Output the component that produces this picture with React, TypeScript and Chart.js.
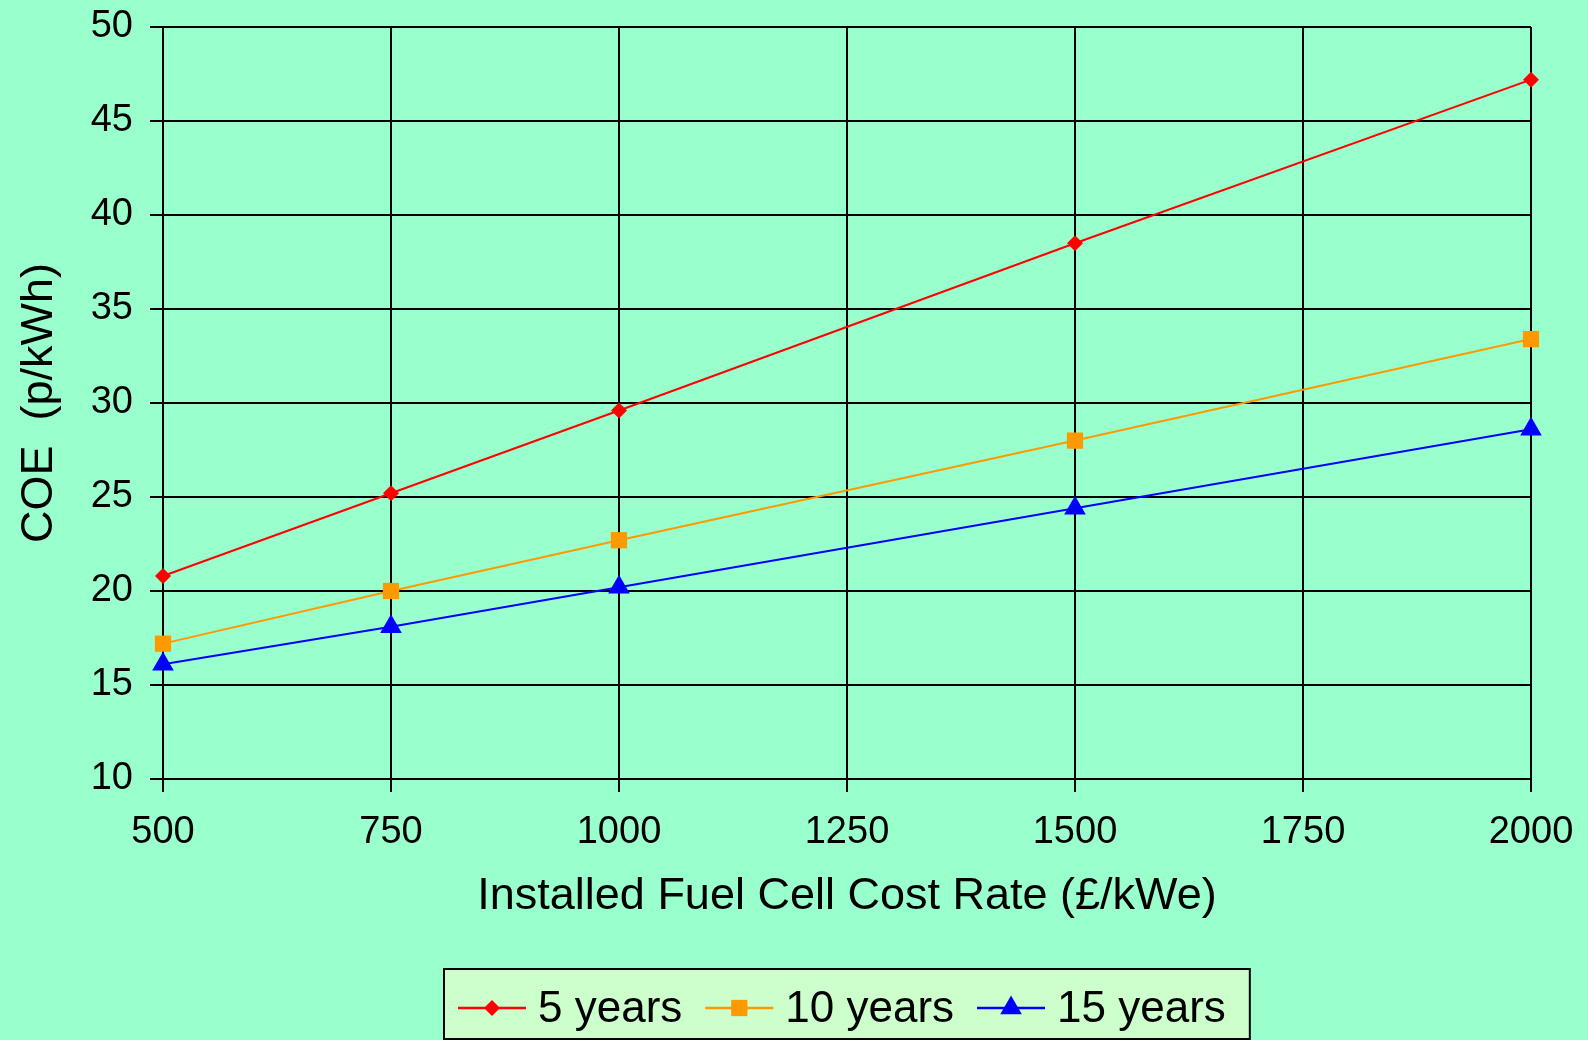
import React, { useEffect, useRef } from "react";
import { Chart, registerables } from "chart.js";

Chart.register(...registerables);

// ---- Data ----
const costRates = [500, 750, 1000, 1500, 2000];
const coe5Years = [20.8, 25.2, 29.6, 38.5, 47.2];
const coe10Years = [17.2, 20.0, 22.7, 28.0, 33.4];
const coe15Years = [16.1, 18.1, 20.2, 24.4, 28.6];
const seriesLabels = ["5 years", "10 years", "15 years"];
const xAxisTitle = "Installed Fuel Cell Cost Rate (£/kWe)";
const yAxisTitle = "COE  (p/kWh)";
const xTickValues = [500, 750, 1000, 1250, 1500, 1750, 2000];
const yTickValues = [10, 15, 20, 25, 30, 35, 40, 45, 50];

const FONT_FAMILY = '"Liberation Sans", Arial, Helvetica, sans-serif';
const PAGE_BG = "#99FFCC";
const LEGEND_BG = "#CCFFCC";

function drawMarker(ctx: CanvasRenderingContext2D, style: string, x: number, y: number, r: number, color: string) {
  ctx.save();
  ctx.fillStyle = color;
  ctx.beginPath();
  if (style === "rectRot") {
    ctx.moveTo(x, y - r);
    ctx.lineTo(x + r, y);
    ctx.lineTo(x, y + r);
    ctx.lineTo(x - r, y);
    ctx.closePath();
  } else if (style === "rect") {
    const h = Math.SQRT1_2 * r;
    ctx.rect(x - h, y - h, 2 * h, 2 * h);
  } else if (style === "triangle") {
    let rad = 0;
    ctx.moveTo(x + Math.sin(rad) * r, y - Math.cos(rad) * r);
    rad += (2 * Math.PI) / 3;
    ctx.lineTo(x + Math.sin(rad) * r, y - Math.cos(rad) * r);
    rad += (2 * Math.PI) / 3;
    ctx.lineTo(x + Math.sin(rad) * r, y - Math.cos(rad) * r);
    ctx.closePath();
  }
  ctx.fill();
  ctx.restore();
}

const boxLegendPlugin = {
  id: "boxLegend",
  afterDraw(chart: any) {
    const ctx: CanvasRenderingContext2D = chart.ctx;
    const area = chart.chartArea;
    ctx.save();
    ctx.font = `44px ${FONT_FAMILY}`;
    const lineLen = 68;
    const gapText = 12;
    const gapItem = 23;
    const padL = 14;
    const padR = 24;
    const datasets = chart.data.datasets;
    const widths = datasets.map((d: any) => ctx.measureText(d.label).width);
    let total = padL + padR;
    widths.forEach((w: number, i: number) => {
      total += lineLen + gapText + w + (i < widths.length - 1 ? gapItem : 0);
    });
    const cx = (area.left + area.right) / 2;
    const boxL = Math.round(cx - total / 2);
    const boxT = 969;
    const boxB = 1039;
    ctx.fillStyle = LEGEND_BG;
    ctx.fillRect(boxL, boxT, total, boxB - boxT);
    ctx.strokeStyle = "#000000";
    ctx.lineWidth = 2;
    ctx.strokeRect(boxL, boxT, total, boxB - boxT);
    const midY = 1008;
    let x = boxL + padL;
    datasets.forEach((d: any, i: number) => {
      ctx.strokeStyle = d.borderColor;
      ctx.lineWidth = 2.5;
      ctx.beginPath();
      ctx.moveTo(x, midY);
      ctx.lineTo(x + lineLen, midY);
      ctx.stroke();
      drawMarker(ctx, d.pointStyle, x + lineLen / 2, midY, d.legendMarkerRadius, d.pointBackgroundColor);
      x += lineLen + gapText;
      ctx.fillStyle = "#000000";
      ctx.textAlign = "left";
      ctx.textBaseline = "middle";
      ctx.fillText(d.label, x, midY + 2);
      x += widths[i] + gapItem;
    });
    ctx.restore();
  },
};

const bgPlugin = {
  id: "pageBg",
  beforeDraw(chart: any) {
    const ctx = chart.ctx;
    ctx.save();
    ctx.fillStyle = PAGE_BG;
    ctx.fillRect(0, 0, chart.width, chart.height);
    ctx.restore();
  },
};

export default function App() {
  const canvasRef = useRef<HTMLCanvasElement | null>(null);

  useEffect(() => {
    const canvas = canvasRef.current;
    if (!canvas) return;
    const mk = (vals: number[]) => costRates.map((x, i) => ({ x, y: vals[i] }));
    const chart = new Chart(canvas, {
      type: "line",
      data: {
        datasets: [
          {
            label: seriesLabels[0],
            data: mk(coe5Years),
            borderColor: "#FF0000",
            backgroundColor: "#FF0000",
            pointBackgroundColor: "#FF0000",
            pointBorderColor: "#FF0000",
            borderWidth: 2,
            pointStyle: "rectRot",
            pointRadius: 8,
            pointBorderWidth: 0,
            legendMarkerRadius: 8,
            tension: 0,
            clip: false,
          },
          {
            label: seriesLabels[1],
            data: mk(coe10Years),
            borderColor: "#FF9900",
            backgroundColor: "#FF9900",
            pointBackgroundColor: "#FF9900",
            pointBorderColor: "#FF9900",
            borderWidth: 2,
            pointStyle: "rect",
            pointRadius: 11.5,
            pointBorderWidth: 0,
            legendMarkerRadius: 11.5,
            tension: 0,
            clip: false,
          },
          {
            label: seriesLabels[2],
            data: mk(coe15Years),
            borderColor: "#0000FF",
            backgroundColor: "#0000FF",
            pointBackgroundColor: "#0000FF",
            pointBorderColor: "#0000FF",
            borderWidth: 2,
            pointStyle: "triangle",
            pointRadius: 12.5,
            pointBorderWidth: 0,
            legendMarkerRadius: 12.5,
            tension: 0,
            clip: false,
          },
        ] as any,
      },
      options: {
        responsive: false,
        animation: false,
        events: [],
        layout: { padding: { left: 13, top: 27, right: 57, bottom: 116 } },
        plugins: { legend: { display: false }, tooltip: { enabled: false } },
        scales: {
          x: {
            type: "linear",
            min: xTickValues[0],
            max: xTickValues[xTickValues.length - 1],
            afterBuildTicks: (s: any) => {
              s.ticks = xTickValues.map((v) => ({ value: v }));
            },
            afterFit: (s: any) => {
              s.height = 145;
              s.paddingLeft = 0;
              s.paddingRight = 0;
            },
            ticks: {
              color: "#000000",
              font: { family: FONT_FAMILY, size: 38 },
              padding: 18,
              maxRotation: 0,
              autoSkip: false,
              callback: (v: any) => String(v),
            },
            grid: { color: "#000000", lineWidth: 2, tickLength: 13, drawTicks: true },
            border: { display: true, color: "#000000", width: 2 },
            title: {
              display: true,
              text: xAxisTitle,
              color: "#000000",
              font: { family: FONT_FAMILY, size: 45 },
              padding: 0,
            },
          },
          y: {
            type: "linear",
            min: yTickValues[0],
            max: yTickValues[yTickValues.length - 1],
            afterBuildTicks: (s: any) => {
              s.ticks = yTickValues.map((v) => ({ value: v }));
            },
            afterFit: (s: any) => {
              s.width = 150;
              s.paddingTop = 0;
              s.paddingBottom = 0;
            },
            ticks: {
              color: "#000000",
              font: { family: FONT_FAMILY, size: 38 },
              padding: 17,
              autoSkip: false,
              callback: (v: any) => String(v),
            },
            grid: { color: "#000000", lineWidth: 2, tickLength: 13, drawTicks: true },
            border: { display: true, color: "#000000", width: 2 },
            title: {
              display: true,
              text: yAxisTitle,
              color: "#000000",
              font: { family: FONT_FAMILY, size: 45 },
              padding: 0,
            },
          },
        },
      } as any,
      plugins: [bgPlugin, boxLegendPlugin],
    });
    return () => chart.destroy();
  }, []);

  return (
    <div
      style={{
        position: "fixed",
        left: 0,
        top: 0,
        width: 1588,
        height: 1040,
        background: PAGE_BG,
        overflow: "hidden",
      }}
    >
      <canvas ref={canvasRef} width={1588} height={1040} style={{ display: "block", width: 1588, height: 1040 }} />
    </div>
  );
}
